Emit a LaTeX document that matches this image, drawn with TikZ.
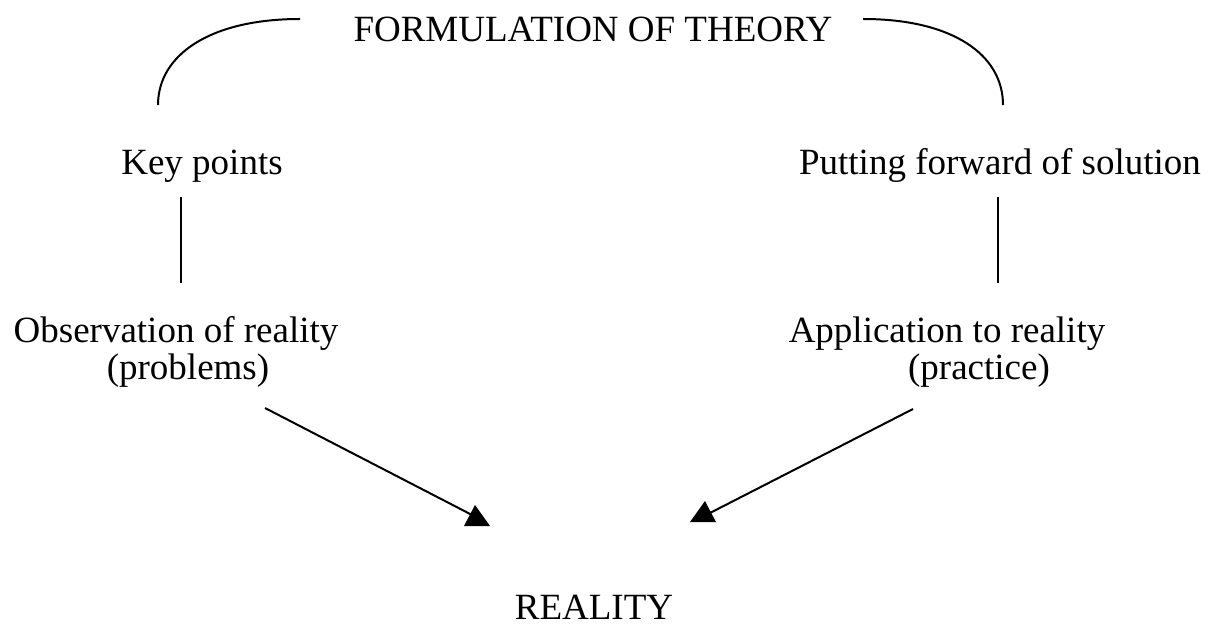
\documentclass[tikz,border=0pt]{standalone}
\usepackage{fontspec}
\setmainfont{Liberation Serif}
\begin{document}
\begin{tikzpicture}[x=0.5pt,y=-0.5pt,
  lbl/.style={anchor=base,inner sep=0pt,font=\fontsize{18.5}{22}\selectfont},
  conn/.style={line width=1pt},
  tip/.style={fill=black}]
\useasboundingbox (0,0) rectangle (1210,625);
\node[lbl] (theory) at (593,42) {FORMULATION OF THEORY};
\node[lbl] (key) at (202,175) {Key points};
\node[lbl] (put) at (1000,175) {Putting forward of solution};
\node[lbl] (obs) at (176,343) {Observation of reality};
\node[lbl] (obs2) at (188,380) {(problems)};
\node[lbl] (app) at (947,343) {Application to reality};
\node[lbl] (app2) at (979,380) {(practice)};
\node[lbl] (real) at (594,619) {REALITY};
% arcs
\coordinate (la) at (300,19);
\coordinate (lb) at (158,105);
\coordinate (ra) at (863,19);
\coordinate (rb) at (1003,105);
\draw[conn] (la) .. controls (210,19) and (158,55) .. (lb);
\draw[conn] (ra) .. controls (953,19) and (1003,55) .. (rb);
% verticals
\coordinate (kv1) at (181,197);
\coordinate (kv2) at (181,283);
\coordinate (pv1) at (998,197);
\coordinate (pv2) at (998,283);
\draw[conn] (kv1) -- (kv2);
\draw[conn] (pv1) -- (pv2);
% arrows
\coordinate (ls) at (265,408);
\coordinate (le) at (474,516);
\coordinate (rs) at (913,409);
\coordinate (re) at (708,514);
\draw[conn] (ls) -- (le);
\draw[conn] (rs) -- (re);
\fill[tip] (475,505) -- (490,526) -- (464,526) -- cycle;
\fill[tip] (705,501) -- (716,522) -- (690,522) -- cycle;
\end{tikzpicture}
\end{document}
